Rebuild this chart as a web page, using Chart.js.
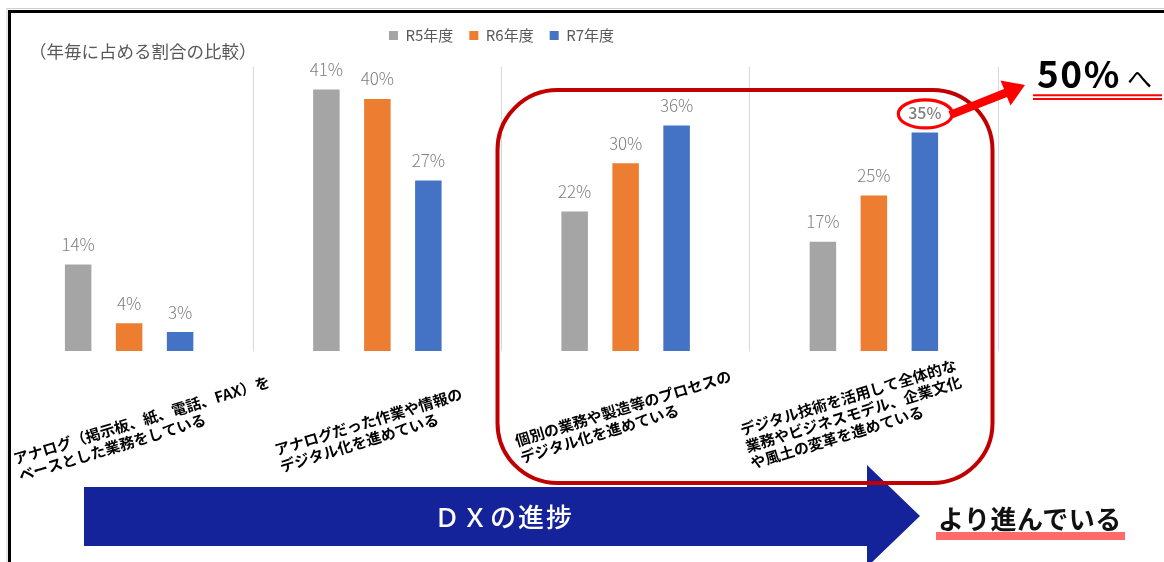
<!DOCTYPE html>
<html lang="ja">
<head>
<meta charset="utf-8">
<script src="https://cdn.jsdelivr.net/npm/chart.js@4.4.1/dist/chart.umd.min.js"></script>
<style>
  html, body { margin: 0; padding: 0; background: #fff; }
  #wrap { position: relative; width: 1164px; height: 562px; overflow: hidden; background: #fff; }
  #chartBox { position: absolute; left: 0; top: 0; width: 1010px; height: 562px; z-index: 1; }
  #overlay { position: absolute; left: 0; top: 0; width: 1164px; height: 562px; z-index: 2; pointer-events: none; }
</style>
</head>
<body>
<div id="wrap">
  <div id="chartBox"><canvas id="c"></canvas></div>
  <svg id="overlay" width="1164" height="562" viewBox="0 0 1164 562" xmlns="http://www.w3.org/2000/svg">
    <!-- frame -->
    <line x1="7" y1="8.5" x2="1164" y2="8.5" stroke="#cfcfcf" stroke-width="1"/>
    <line x1="7" y1="8" x2="7" y2="562" stroke="#cfcfcf" stroke-width="1"/>
    <line x1="8" y1="11.5" x2="1164" y2="11.5" stroke="#000" stroke-width="3"/>
    <line x1="9.5" y1="10" x2="9.5" y2="562" stroke="#000" stroke-width="3"/>
    <!-- chart subtitle -->
    <text x="29" y="57.5" font-family="'Noto Sans CJK JP', sans-serif" font-size="17.5" fill="#595959">（年毎に占める割合の比較）</text>
    <!-- DX progress arrow -->
    <polygon points="84,487 867,487 867,465 920,516 867,567 867,546 84,546" fill="#14239a"/>
    <text x="504" y="527" text-anchor="middle" font-family="'Noto Sans CJK JP', sans-serif" font-size="26" font-weight="500" letter-spacing="2" fill="#fff">ＤＸの進捗</text>
    <!-- highlight box -->
    <rect x="497.5" y="90" width="495" height="393" rx="60" ry="60" fill="none" stroke="#c00000" stroke-width="4"/>
    <!-- red arrow to 50% -->
    <polygon points="951.5,118.7 1007,97 1010.5,105.5 1025,85 1000.5,80.5 1004,89 948.5,111.3" fill="#ff0000"/>
    <!-- 50% target -->
    <text x="1037" y="88" font-family="'Noto Sans CJK JP', sans-serif" font-size="37" font-weight="bold" letter-spacing="1.5" fill="#000">50%</text>
    <text x="1127" y="88" font-family="'Noto Sans CJK JP', sans-serif" font-size="25" fill="#000">へ</text>
    <line x1="1033" y1="95.3" x2="1162" y2="95.3" stroke="#ff0000" stroke-width="2"/>
    <line x1="1033" y1="99" x2="1162" y2="99" stroke="#ff0000" stroke-width="2"/>
    <!-- more advanced -->
    <rect x="936" y="532" width="189" height="8" fill="#ff6b6b"/>
    <text x="938" y="529" font-family="'Noto Sans CJK JP', sans-serif" font-size="26" font-weight="bold" letter-spacing="0.5" fill="#111">より進んでいる</text>
  </svg>
</div>
<script>
// ---- data ----
const categories = [
  ["アナログ（掲示板、紙、電話、FAX）を", "ベースとした業務をしている"],
  ["アナログだった作業や情報の", "デジタル化を進めている"],
  ["個別の業務や製造等のプロセスの", "デジタル化を進めている"],
  ["デジタル技術を活用して全体的な", "業務やビジネスモデル、企業文化", "や風土の変革を進めている"]
];
const seriesNames = ["R5年度", "R6年度", "R7年度"];
const r5 = [13.7, 41.4, 22.1, 17.3];
const r6 = [4.4, 39.9, 29.7, 24.6];
const r7 = [3.0, 27.0, 35.7, 34.6];
const yMax = 45;

// ---- style ----
const seriesColors = ["#a5a5a5", "#ed7d31", "#4472c4"];
const labelShiftX = [-108, -95, -103, -126];
const labelShiftY = [106, 97, 88, 77];
const highlight = { dataset: 2, index: 3 };
const JP = '"Noto Sans CJK JP", "Noto Sans", sans-serif';

const legendSpacer = {
  id: 'legendSpacer',
  beforeInit(chart) {
    const lg = chart.legend;
    if (!lg) return;
    const orig = lg.fit;
    lg.fit = function () { orig.call(this); this.height += 13.7; };
  }
};

const valueLabels = {
  id: 'valueLabels',
  afterDatasetsDraw(chart) {
    const ctx = chart.ctx;
    ctx.save();
    chart.data.datasets.forEach((ds, di) => {
      const meta = chart.getDatasetMeta(di);
      meta.data.forEach((bar, i) => {
        const text = Math.round(ds.data[i]) + '%';
        const x = bar.x;
        const y = bar.y - 13.5;
        if (di === highlight.dataset && i === highlight.index) {
          ctx.beginPath();
          ctx.ellipse(x + 0.5, y - 5, 27, 14, 0, 0, Math.PI * 2);
          ctx.fillStyle = '#ffffff';
          ctx.fill();
          ctx.lineWidth = 3.2;
          ctx.strokeStyle = '#ff0000';
          ctx.stroke();
          ctx.font = '500 16px ' + JP;
        } else {
          ctx.font = '300 17px ' + JP;
        }
        ctx.fillStyle = '#7f7f7f';
        ctx.textAlign = 'center';
        ctx.textBaseline = 'alphabetic';
        ctx.fillText(text, x, y);
      });
    });
    ctx.restore();
  }
};

const categoryLabels = {
  id: 'categoryLabels',
  afterDraw(chart) {
    const xs = chart.scales.x;
    const ctx = chart.ctx;
    ctx.save();
    ctx.font = 'bold 15px ' + JP;
    ctx.fillStyle = '#000';
    ctx.textAlign = 'left';
    ctx.textBaseline = 'middle';
    chart.data.labels.forEach((lines, i) => {
      const x = xs.getPixelForValue(i) + labelShiftX[i];
      const y = xs.top + labelShiftY[i];
      ctx.save();
      ctx.translate(x, y);
      ctx.rotate(-17 * Math.PI / 180);
      lines.forEach((ln, j) => ctx.fillText(ln, -7.5, j * 17.5));
      ctx.restore();
    });
    ctx.restore();
  }
};

new Chart(document.getElementById('c'), {
  type: 'bar',
  data: {
    labels: categories,
    datasets: [
      { label: seriesNames[0], data: r5, backgroundColor: seriesColors[0] },
      { label: seriesNames[1], data: r6, backgroundColor: seriesColors[1] },
      { label: seriesNames[2], data: r7, backgroundColor: seriesColors[2] }
    ]
  },
  options: {
    responsive: true,
    maintainAspectRatio: false,
    animation: false,
    layout: { padding: { left: 5, right: 12, top: 12, bottom: 211 } },
    datasets: { bar: { categoryPercentage: 0.616, barPercentage: 0.52 } },
    plugins: {
      legend: {
        position: 'top',
        labels: {
          boxWidth: 9, boxHeight: 9, padding: 16,
          color: '#595959',
          font: { family: JP, size: 15 }
        }
      },
      tooltip: { enabled: false },
      title: { display: false }
    },
    scales: {
      x: {
        offset: true,
        ticks: { display: false },
        border: { display: false },
        grid: {
          offset: true,
          drawTicks: false,
          lineWidth: 1,
          color: (c) => (c.index === 0 ? 'rgba(0,0,0,0)' : '#d9d9d9')
        }
      },
      y: { display: false, min: 0, max: yMax }
    }
  },
  plugins: [legendSpacer, valueLabels, categoryLabels]
});
</script>
</body>
</html>
